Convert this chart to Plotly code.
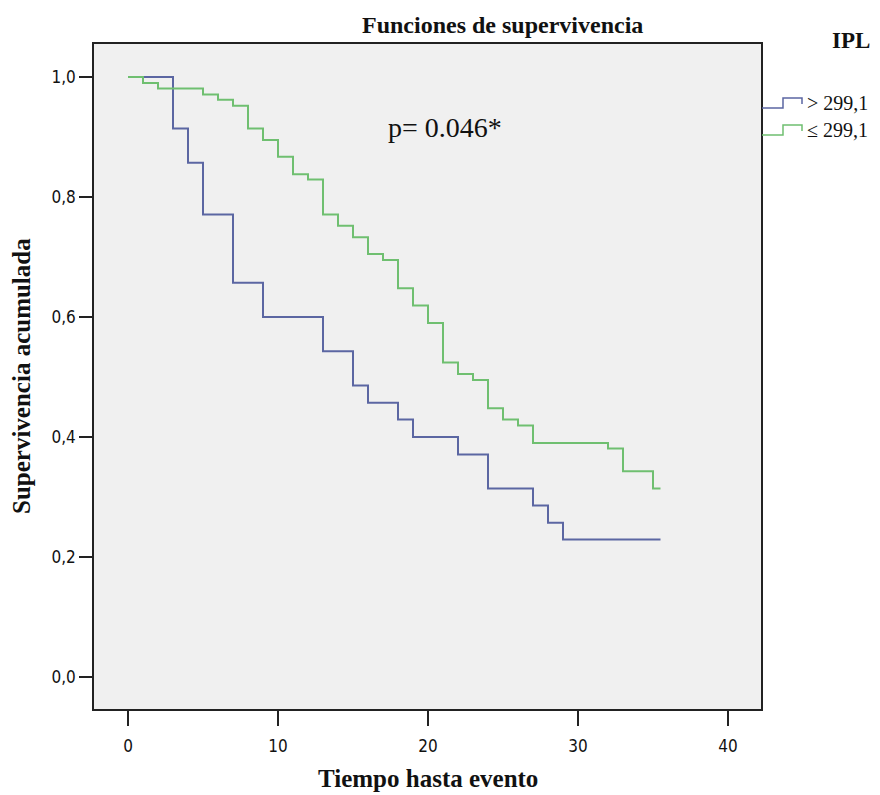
import plotly.graph_objects as go

# Kaplan-Meier step data
t_high = [0, 3, 4, 5, 7, 9, 13, 15, 16, 18, 19, 22, 24, 27, 28, 29, 35.5]
s_high = [1.0, 0.914, 0.857, 0.771, 0.657, 0.600, 0.543, 0.486, 0.457, 0.429,
          0.400, 0.371, 0.314, 0.286, 0.257, 0.229, 0.229]

t_low = [0, 1, 2, 5, 6, 7, 8, 9, 10, 11, 12, 13, 14, 15, 16, 17, 18, 19, 20, 21,
         22, 23, 24, 25, 26, 27, 32, 33, 35, 35.5]
s_low = [1.0, 0.990, 0.981, 0.971, 0.962, 0.952, 0.914, 0.895, 0.867, 0.838,
         0.829, 0.771, 0.752, 0.733, 0.705, 0.695, 0.648, 0.619, 0.590, 0.524,
         0.505, 0.495, 0.448, 0.429, 0.419, 0.390, 0.381, 0.343, 0.314, 0.314]

series_names = ["> 299,1", "\u2264 299,1"]
series_colors = ["#5b66a2", "#6fbf70"]

x_ticks = [0, 10, 20, 30, 40]
y_ticks = [0.0, 0.2, 0.4, 0.6, 0.8, 1.0]
y_ticktext = ["0,0", "0,2", "0,4", "0,6", "0,8", "1,0"]

W, H = 880, 795
L, R, T, B = 94, 761, 44, 709  # plot area in pixels


def px(x):
    return (x - L) / (R - L)


def py(y):
    return (B - y) / (B - T)


serif = "Liberation Serif, Times New Roman, serif"
narrow = "Liberation Sans Narrow, DejaVu Sans Condensed, Arial Narrow, sans-serif"

fig = go.Figure()
for t, s, name, col in [(t_high, s_high, series_names[0], series_colors[0]),
                        (t_low, s_low, series_names[1], series_colors[1])]:
    fig.add_trace(go.Scatter(x=t, y=s, mode="lines", line=dict(shape="hv", color=col, width=2),
                             name=name, showlegend=False))

shapes = []
annotations = []
# custom step-shaped legend glyphs
for i, (name, col) in enumerate(zip(series_names, series_colors)):
    base = 108 + 27 * i
    top = base - 10
    pts = [(762, base), (783, base), (783, top), (802, top), (802, base - 4)]
    path = "M " + " L ".join(f"{px(a):.5f},{py(b):.5f}" for a, b in pts)
    shapes.append(dict(type="path", path=path, xref="paper", yref="paper",
                       line=dict(color=col, width=1.5)))
    annotations.append(dict(text=name, x=px(805), y=py(base - 5), xref="paper", yref="paper",
                            xanchor="left", yanchor="middle", showarrow=False,
                            font=dict(family=serif, size=20, color="#111")))

annotations += [
    dict(text="<b>IPL</b>", x=px(851), y=py(41), xref="paper", yref="paper",
         xanchor="center", yanchor="middle", showarrow=False,
         font=dict(family=serif, size=23, color="#111")),
    dict(text="<b>Funciones de supervivencia</b>", x=px(502), y=py(25), xref="paper", yref="paper",
         xanchor="center", yanchor="middle", showarrow=False,
         font=dict(family=serif, size=24, color="#111")),
    dict(text="p= 0.046*", x=px(445), y=py(128), xref="paper", yref="paper",
         xanchor="center", yanchor="middle", showarrow=False,
         font=dict(family=serif, size=28, color="#111")),
    dict(text="<b>Supervivencia acumulada</b>", x=px(22), y=py(376), xref="paper", yref="paper",
         xanchor="center", yanchor="middle", showarrow=False, textangle=-90,
         font=dict(family=serif, size=25, color="#111")),
    dict(text="<b>Tiempo hasta evento</b>", x=px(428), y=py(778), xref="paper", yref="paper",
         xanchor="center", yanchor="middle", showarrow=False,
         font=dict(family=serif, size=25, color="#111")),
]

fig.update_layout(
    width=W, height=H,
    margin=dict(l=L, r=W - R, t=T, b=H - B, pad=0),
    paper_bgcolor="white",
    plot_bgcolor="#f0f0f0",
    showlegend=False,
    shapes=shapes,
    annotations=annotations,
    xaxis=dict(range=[(L - 128) / 15, (R - 128) / 15], tickvals=x_ticks,
               ticks="outside", ticklen=15, tickwidth=1.5, tickcolor="#222",
               ticklabelstandoff=6,
               showgrid=False, zeroline=False, showline=True, mirror=True,
               linecolor="#222", linewidth=1.5,
               tickfont=dict(family=narrow, size=17, color="#111")),
    yaxis=dict(range=[(677 - B) / 600, (677 - T) / 600], tickvals=y_ticks, ticktext=y_ticktext,
               ticks="outside", ticklen=13, tickwidth=1.5, tickcolor="#222",
               showgrid=False, zeroline=False, showline=True, mirror=True,
               linecolor="#222", linewidth=1.5,
               tickfont=dict(family=narrow, size=17, color="#111")),
)

fig.write_html("out.html")
